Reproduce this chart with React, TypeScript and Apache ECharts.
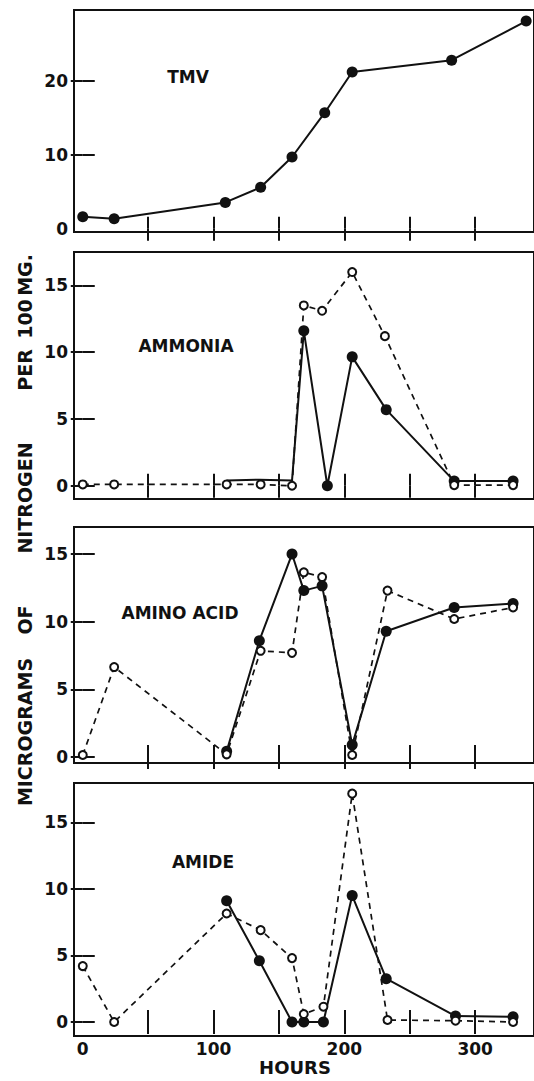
import React, { useEffect, useRef } from "react";
import * as echarts from "echarts";

// ---- data (hours after inoculation, micrograms N per 100 mg) ----
const tmvHours = [0, 24, 109, 136, 160, 185, 206, 282, 339];
const tmvValues = [1.6, 1.35, 3.55, 5.6, 9.7, 15.7, 21.2, 22.8, 28.1];

const ammoniaFilledHours = [110, 135, 160, 169, 187, 206, 232, 284, 329];
const ammoniaFilled = [0.4, 0.45, 0.4, 11.6, 0, 9.65, 5.7, 0.35, 0.35];
const ammoniaOpenHours = [0, 24, 110, 136, 160, 169, 183, 206, 231, 284, 329];
const ammoniaOpen = [0.1, 0.1, 0.1, 0.1, 0, 13.5, 13.1, 16.0, 11.2, 0.05, 0.05];
// filled points that lie hidden under the open circles in the original
const ammoniaFilledHiddenHours = [110, 135, 160];

const aminoFilledHours = [110, 135, 160, 169, 183, 206, 232, 284, 329];
const aminoFilled = [0.42, 8.6, 15.0, 12.3, 12.65, 0.9, 9.3, 11.05, 11.35];
const aminoOpenHours = [0, 24, 110, 136, 160, 169, 183, 206, 233, 284, 329];
const aminoOpen = [0.15, 6.65, 0.2, 7.85, 7.7, 13.65, 13.3, 0.15, 12.3, 10.2, 11.05];

const amideFilledHours = [110, 135, 160, 169, 184, 206, 232, 285, 329];
const amideFilled = [9.1, 4.6, 0, 0, 0, 9.5, 3.25, 0.45, 0.4];
const amideOpenHours = [0, 24, 110, 136, 160, 169, 184, 206, 233, 285, 329];
const amideOpen = [4.2, 0, 8.15, 6.9, 4.8, 0.6, 1.15, 17.15, 0.15, 0.1, 0];

const panelNames = ["TMV", "AMMONIA", "AMINO ACID", "AMIDE"];
const xTickValues = [50, 100, 150, 200, 250, 300];
const xLabelValues = [0, 100, 200, 300];
const yTickValues = [[10, 20], [0, 5, 10, 15], [0, 5, 10, 15], [0, 5, 10, 15]];
const yLabelValues = [[0, 10, 20], [0, 5, 10, 15], [0, 5, 10, 15], [0, 5, 10, 15]];
const yNameWords = ["MICROGRAMS", "OF", "NITROGEN", "PER", "100", "MG."];
const xName = "HOURS";

// ---- layout ----
const X_MIN = -6.7;
const X_MAX = 345;
const yRanges = [
  [-0.45, 29.6],
  [-0.99, 17.5],
  [-0.44, 17.0],
  [-1.05, 17.95],
];
const grids = [
  { top: 10, height: 222 },
  { top: 252, height: 247 },
  { top: 527, height: 236 },
  { top: 783, height: 253 },
];
const panelLabelPos = [
  [188, 77],
  [186, 346],
  [180, 613],
  [203, 862],
];
const yNamePos = [732, 620, 498, 370, 319, 275];

const FONT = "'DejaVu Sans', 'Noto Sans', sans-serif";
const INK = "#111";

function pairs(h: number[], v: number[]) {
  return h.map((x, i) => [x, v[i]]);
}

export default function App() {
  const ref = useRef<HTMLDivElement>(null);
  useEffect(() => {
    if (!ref.current) return;
    const chart = echarts.init(ref.current, null, { renderer: "svg" });

    const xAxis: any[] = [];
    const yAxis: any[] = [];
    grids.forEach((g, i) => {
      const tickStyle = { show: true, inside: true, length: 12, lineStyle: { color: INK, width: 2 } };
      xAxis.push({
        gridIndex: i,
        type: "value",
        min: X_MIN,
        max: X_MAX,
        position: "bottom",
        axisLine: { show: false },
        axisTick: { ...tickStyle, customValues: xTickValues },
        axisLabel: {
          show: i === 3,
          customValues: xLabelValues,
          color: INK,
          fontFamily: FONT,
          fontSize: 17,
          fontWeight: "bold",
          margin: 4,
        },
        splitLine: { show: false },
      });
      xAxis.push({
        gridIndex: i,
        type: "value",
        min: X_MIN,
        max: X_MAX,
        position: "top",
        axisLine: { show: false },
        axisTick: { ...tickStyle, customValues: xTickValues },
        axisLabel: { show: false },
        splitLine: { show: false },
      });
      yAxis.push({
        gridIndex: i,
        type: "value",
        min: yRanges[i][0],
        max: yRanges[i][1],
        position: "left",
        axisLine: { show: false },
        axisTick: { ...tickStyle, customValues: yTickValues[i] },
        axisLabel: {
          customValues: yLabelValues[i],
          color: INK,
          fontFamily: FONT,
          fontSize: 17,
          fontWeight: "bold",
          margin: 6,
        },
        splitLine: { show: false },
      });
      yAxis.push({
        gridIndex: i,
        type: "value",
        min: yRanges[i][0],
        max: yRanges[i][1],
        position: "right",
        axisLine: { show: false },
        axisTick: { ...tickStyle, customValues: yTickValues[i] },
        axisLabel: { show: false },
        splitLine: { show: false },
      });
    });

    const filled = (i: number, data: number[][], hideAt: number[] = []) => ({
      type: "line",
      xAxisIndex: 2 * i,
      yAxisIndex: 2 * i,
      data,
      symbol: "circle",
      symbolSize: (v: number[]) => (hideAt.indexOf(v[0]) >= 0 ? 0 : 11),
      itemStyle: { color: INK },
      lineStyle: { color: INK, width: 2 },
      z: 3,
    });
    const open = (i: number, data: number[][]) => ({
      type: "line",
      xAxisIndex: 2 * i,
      yAxisIndex: 2 * i,
      data,
      symbol: "circle",
      symbolSize: 8,
      itemStyle: { color: "#fff", borderColor: INK, borderWidth: 2 },
      lineStyle: { color: INK, width: 1.7, type: [6, 5] },
      z: 4,
    });

    const series = [
      filled(0, pairs(tmvHours, tmvValues)),
      filled(1, pairs(ammoniaFilledHours, ammoniaFilled), ammoniaFilledHiddenHours),
      open(1, pairs(ammoniaOpenHours, ammoniaOpen)),
      filled(2, pairs(aminoFilledHours, aminoFilled)),
      open(2, pairs(aminoOpenHours, aminoOpen)),
      filled(3, pairs(amideFilledHours, amideFilled)),
      open(3, pairs(amideOpenHours, amideOpen)),
    ];

    const textStyle = (text: string, size: number) => ({
      text,
      fill: INK,
      fontFamily: FONT,
      fontSize: size,
      fontWeight: "bold",
      align: "center",
      verticalAlign: "middle",
      textAlign: "center",
      textVerticalAlign: "middle",
    });

    const graphic: any[] = [];
    panelNames.forEach((name, i) => {
      graphic.push({
        type: "text",
        x: panelLabelPos[i][0],
        y: panelLabelPos[i][1],
        style: textStyle(name, 17),
      });
    });
    yNameWords.forEach((w, i) => {
      graphic.push({
        type: "text",
        x: 25,
        y: yNamePos[i],
        rotation: Math.PI / 2,
        style: textStyle(w, 19),
      });
    });
    graphic.push({
      type: "text",
      x: 295,
      y: 1067,
      style: textStyle(xName, 18),
    });

    chart.setOption({
      animation: false,
      backgroundColor: "#fff",
      grid: grids.map((g) => ({
        left: 74,
        right: -4,
        top: g.top,
        height: g.height,
        show: true,
        borderColor: INK,
        borderWidth: 2,
        backgroundColor: "transparent",
      })),
      xAxis,
      yAxis,
      series,
      graphic,
    });
    return () => chart.dispose();
  }, []);
  return (
    <div
      ref={ref}
      style={{ position: "absolute", left: 0, top: 0, width: 534, height: 1081, background: "#fff" }}
    />
  );
}
